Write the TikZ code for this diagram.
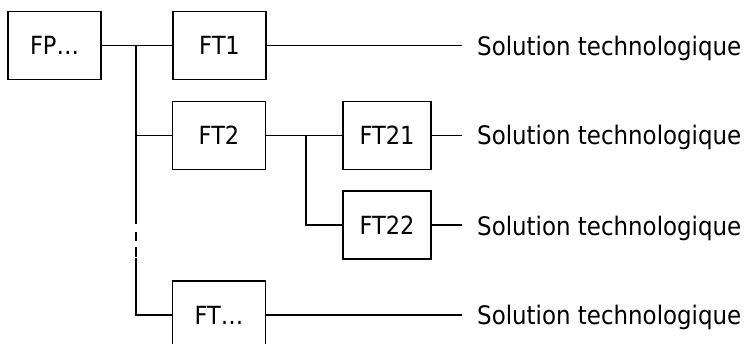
\documentclass[tikz,border=0pt]{standalone}
\usepackage{fontspec}
\setmainfont{DejaVu Sans Condensed}
\begin{document}
\begin{tikzpicture}[x=1pt,y=1pt,
  fbox/.style={draw,line width=1.4pt,minimum width=93pt,minimum height=68pt,inner sep=0pt,font=\fontsize{25}{30}\selectfont},
  sol/.style={anchor=base west,inner xsep=15pt,inner ysep=0pt,font=\fontsize{25.5}{30}\selectfont},
  wire/.style={line width=1.4pt}]
\useasboundingbox (0,0) rectangle (749,-344);
\node[fbox] (FP) at (54.5,-45.5) {FP…};
\node[fbox] (FT1) at (219.5,-45.5) {FT1};
\node[fbox] (FT2) at (219,-135.5) {FT2};
\node[fbox,minimum width=88pt] (FT21) at (387,-135.5) {FT21};
\node[fbox,minimum width=88pt] (FT22) at (387,-225) {FT22};
\node[fbox] (FTd) at (219,-315) {FT…};
\node[sol] (s1) at (462,-56) {Solution technologique};
\node[sol] (s2) at (462,-145) {Solution technologique};
\node[sol] (s3) at (462,-236) {Solution technologique};
\node[sol] (s4) at (462,-325) {Solution technologique};
\coordinate (j1) at (136,-45.5);
\coordinate (j2) at (136,-224);
\coordinate (j3) at (136,-232);
\coordinate (j4) at (136,-241);
\coordinate (j5) at (136,-247);
\coordinate (j6) at (136,-257);
\coordinate (j7) at (136,-258);
\coordinate (k1) at (306,-135.5);
\draw[wire] (FP.east) -- (FT1.west);
\draw[wire] (j1) -- (j2);
\draw[wire] (j3) -- (j4);
\draw[wire] (j5) -- (j6);
\draw[wire] (j7) |- (FTd.west);
\draw[wire] (j1 |- FT2.west) -- (FT2.west);
\draw[wire] (FT2.east) -- (FT21.west);
\draw[wire] (k1) |- (FT22.west);
\draw[wire] (FT1.east) -- (FT1.east -| s1.west);
\draw[wire] (FT21.east) -- (FT21.east -| s2.west);
\draw[wire] (FT22.east) -- (FT22.east -| s3.west);
\draw[wire] (FTd.east) -- (FTd.east -| s4.west);
\end{tikzpicture}
\end{document}
